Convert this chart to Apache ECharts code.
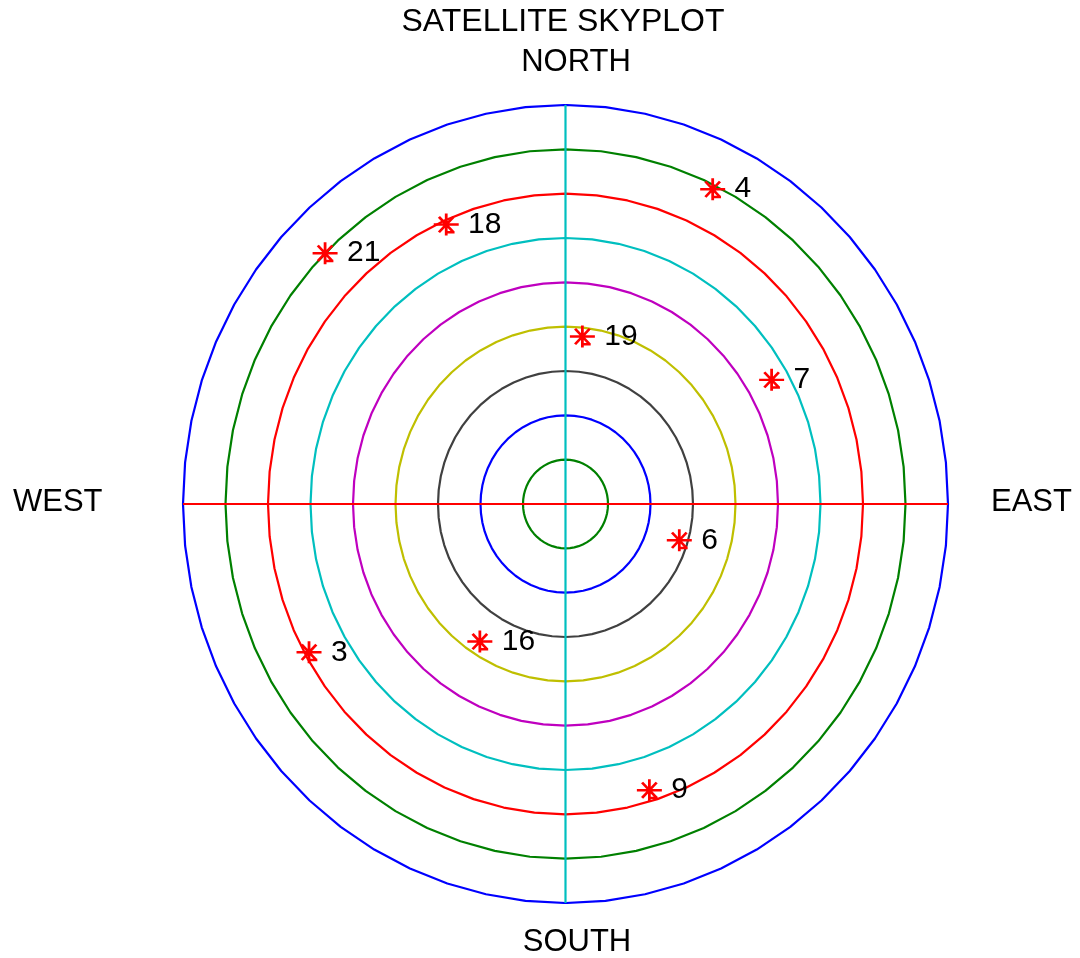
<!DOCTYPE html>
<html>
<head>
<meta charset="utf-8">
<title>Satellite Skyplot</title>
<script src="https://cdn.jsdelivr.net/npm/echarts@6/dist/echarts.min.js"></script>
<style>
  html, body { margin: 0; padding: 0; background: #ffffff; }
  #chart { width: 1080px; height: 958px; }
</style>
</head>
<body>
<div id="chart"></div>
<script>
// Satellite PRN numbers with azimuth (deg, clockwise from north) and elevation (deg)
const prns = ['4', '18', '21', '19', '7', '6', '16', '3', '9'];
const azimuths = [26, 336, 315, 6, 60, 107, 213, 241, 163];
const elevations = [11, 21, 10, 52, 34, 62, 53, 21, 22.5];

// Elevation rings (0 deg at the horizon) and their colours
const ringElevations = [0, 10, 20, 30, 40, 50, 60, 70, 80];
const ringColors = ['#0000ff', '#008000', '#ff0000', '#00bfbf', '#bf00bf', '#bfbf00', '#404040', '#0000ff', '#008000'];

// Compass labels
const headingTitle = 'SATELLITE SKYPLOT';
const compass = { north: 'NORTH', south: 'SOUTH', east: 'EAST', west: 'WEST' };

const FONT = '"Liberation Sans", Arial, sans-serif';
const RAD = Math.PI / 180;

// Zenith distance projected onto east (x) / north (y) components
function project(az, el) {
  const r = 90 - el;
  return [r * Math.sin(az * RAD), r * Math.cos(az * RAD)];
}

function ringPoints(el) {
  const pts = [];
  const steps = 60;
  for (let i = 0; i <= steps; i++) {
    pts.push(project(i * 360 / steps, el));
  }
  return pts;
}

const ringSeries = ringElevations.map((el, i) => ({
  type: 'line',
  data: ringPoints(el),
  showSymbol: false,
  symbol: 'none',
  silent: true,
  lineStyle: { color: ringColors[i], width: 2.2 },
  z: 2
}));

const satData = prns.map((p, i) => ({
  name: p,
  value: project(azimuths[i], elevations[i])
}));

// Asterisk-style marker: vertical, horizontal and two diagonal strokes plus a short tick
const markerPath = 'path://M12,0 L12,20 M0,10 L24,10 M5,3 L19,17 M5,17 L19,3 M12,17 L20,17';

const option = {
  animation: false,
  backgroundColor: '#ffffff',
  grid: { left: 183, top: 105, width: 765, height: 798, show: false },
  xAxis: { type: 'value', min: -90, max: 90, show: false },
  yAxis: { type: 'value', min: -90, max: 90, show: false },
  graphic: [
    { type: 'text', x: 563, y: 22, style: { text: headingTitle, fill: '#000', font: '32px ' + FONT, align: 'center', verticalAlign: 'middle' } },
    { type: 'text', x: 576, y: 62, style: { text: compass.north, fill: '#000', font: '31px ' + FONT, align: 'center', verticalAlign: 'middle' } },
    { type: 'text', x: 577, y: 942, style: { text: compass.south, fill: '#000', font: '31px ' + FONT, align: 'center', verticalAlign: 'middle' } },
    { type: 'text', x: 13, y: 502, style: { text: compass.west, fill: '#000', font: '31px ' + FONT, align: 'left', verticalAlign: 'middle' } },
    { type: 'text', x: 991, y: 502, style: { text: compass.east, fill: '#000', font: '31px ' + FONT, align: 'left', verticalAlign: 'middle' } }
  ],
  series: ringSeries.concat([
    {
      type: 'line',
      data: [[0, -90], [0, 90]],
      symbol: 'none',
      silent: true,
      lineStyle: { color: '#00bfbf', width: 2.2 },
      z: 3
    },
    {
      type: 'line',
      data: [[-90, 0], [90, 0]],
      symbol: 'none',
      silent: true,
      lineStyle: { color: '#ff0000', width: 2.2 },
      z: 3
    },
    {
      type: 'scatter',
      data: satData,
      symbol: markerPath,
      symbolSize: [25, 22],
      itemStyle: { color: '#ff0000', borderColor: '#ff0000', borderWidth: 2.6, opacity: 1 },
      label: {
        show: true,
        position: 'right',
        distance: 8,
        formatter: '{b}',
        color: '#000000',
        opacity: 1,
        fontSize: 30,
        fontFamily: FONT
      },
      emphasis: { disabled: true },
      z: 5
    }
  ])
};

const chart = echarts.init(document.getElementById('chart'), null, { renderer: 'canvas' });
chart.setOption(option);
</script>
</body>
</html>
